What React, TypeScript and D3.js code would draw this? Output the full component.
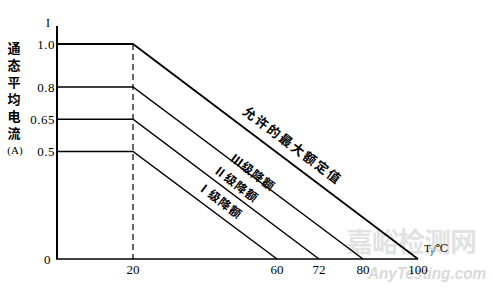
import React from "react";
import * as d3 from "d3";

// ---- data ----
const levels = [1.0, 0.8, 0.65, 0.5];           // on-state average current (A)
const levelEnds = [100, 80, 72, 60];             // junction temperature where current reaches 0 (°C)
const kneeTemp = 20;                             // temperature where derating starts (°C)
const lineLabels = ["允许的最大额定值", "Ⅲ级降额", "Ⅱ级降额", "Ⅰ级降额"];
const yTicks = [1.0, 0.8, 0.65, 0.5, 0];
const yTickLabels = ["1.0", "0.8", "0.65", "0.5", "0"];
const xTicks = [20, 60, 72, 80, 100];
const xTickLabels = ["20", "60", "72", "80", "100"];
const xDomainBreaks = [0, 20, 60, 72, 80, 100];  // schematic (non-uniform) temperature axis
const yTitleChars = ["通", "态", "平", "均", "电", "流"];

export default function App() {
  const W = 493, H = 288;
  // non-uniform axis as drawn in the original schematic
  const x = d3.scaleLinear().domain(xDomainBreaks).range([57, 133, 277, 319, 363, 418]);
  const y = d3.scaleLinear().domain([0, 1]).range([259, 44]);
  const line = d3.line<[number, number]>().x(d => x(d[0])).y(d => y(d[1]));

  const angle = (Math.atan2(y(0) - y(1), x(100) - x(20)) * 180) / Math.PI;
  const rad = (angle * Math.PI) / 180;
  const nx = Math.sin(rad), ny = -Math.cos(rad);
  // label placement along each line: [temperature along line, perpendicular offset, font size]
  const labelPlace: [number, number, number][] = [
    [62, 15, 13],
    [52, 9, 12],
    [47, 11, 12],
    [42, 14, 12],
  ];
  const serif = "'Liberation Serif', 'DejaVu Serif', serif";
  const cjk = "'Noto Sans CJK SC', sans-serif";

  return (
    <svg width={W} height={H} style={{ position: "absolute", left: 0, top: 0, background: "#fff" }}>
      {/* watermark */}
      <text x={411} y={252} textAnchor="middle" fontFamily={cjk} fontWeight={700} fontSize={27} fill="#e2e2e2" letterSpacing={-1}>嘉峪检测网</text>
      <text x={368} y={279} fontFamily="'Liberation Sans', sans-serif" fontStyle="italic" fontWeight={700} fontSize={17} fill="#d9d9d9" textLength={118} lengthAdjust="spacingAndGlyphs">AnyTesting.com</text>

      {/* axes */}
      <line x1={x(0)} y1={26} x2={x(0)} y2={y(0)} stroke="#000" strokeWidth={2} />
      <line x1={x(0) - 1} y1={y(0)} x2={x(100)} y2={y(0)} stroke="#000" strokeWidth={1.6} />
      <text x={48} y={27} textAnchor="middle" fontFamily={serif} fontSize={12}>I</text>

      {/* dashed 20°C guide */}
      <line x1={x(kneeTemp)} y1={y(1)} x2={x(kneeTemp)} y2={y(0)} stroke="#000" strokeWidth={1.2} strokeDasharray="6,4" />

      {/* derating curves */}
      {levels.map((v, i) => (
        <path key={i} d={line([[0, v], [kneeTemp, v], [levelEnds[i], 0]]) || ""} fill="none" stroke="#000" strokeWidth={i === 0 ? 1.8 : 1.5} />
      ))}

      {/* line labels */}
      {lineLabels.map((t, i) => {
        const [tt, off, fs] = labelPlace[i];
        const v = levels[i] * (1 - (tt - kneeTemp) / (levelEnds[i] - kneeTemp));
        const cx = x(tt) + nx * off, cy = y(v) + ny * off;
        return (
          <text key={i} x={cx} y={cy} textAnchor="middle" dominantBaseline="central" fontFamily={cjk} fontWeight={700}
            fontSize={fs} letterSpacing={i === 0 ? 2 : 1} transform={`rotate(${angle},${cx},${cy})`}>{t}</text>
        );
      })}

      {/* y ticks */}
      {yTicks.map((v, i) => (
        <text key={i} x={v === 0 ? 51 : 55} y={y(v)} textAnchor="end" dominantBaseline="central" fontFamily={serif} fontSize={13} letterSpacing={0.5}>{yTickLabels[i]}</text>
      ))}

      {/* x ticks */}
      {xTicks.map((v, i) => (
        <text key={i} x={x(v)} y={269} textAnchor="middle" dominantBaseline="central" fontFamily={serif} fontSize={13}>{xTickLabels[i]}</text>
      ))}
      <text x={424} y={252} fontFamily={serif} fontSize={11}>T<tspan fontSize={8} dy={2}>j</tspan><tspan dy={-2}>/℃</tspan></text>

      {/* y title */}
      {yTitleChars.map((c, i) => (
        <text key={i} x={14} y={47 + i * 17} textAnchor="middle" dominantBaseline="central" fontFamily={cjk} fontWeight={700} fontSize={13}>{c}</text>
      ))}
      <text x={15} y={150} textAnchor="middle" dominantBaseline="central" fontFamily={serif} fontSize={11}>(A)</text>
    </svg>
  );
}
